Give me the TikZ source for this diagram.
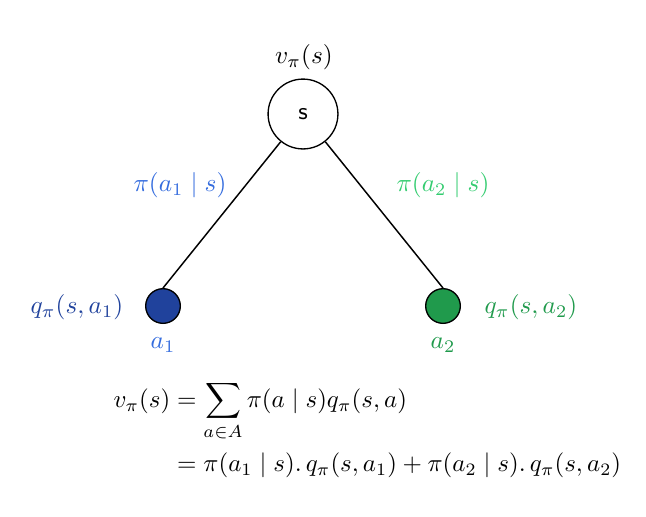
\documentclass[tikz,border=0pt]{standalone}
\usepackage{amsmath}
\definecolor{lblue}{RGB}{52,108,222}
\definecolor{dblue}{RGB}{32,66,156}
\definecolor{lgreen}{RGB}{52,204,112}
\definecolor{dgreen}{RGB}{32,154,76}
\begin{document}
\begin{tikzpicture}[x=0.375pt,y=-0.375pt,
  rootnode/.style={circle,draw,line width=0.5pt,minimum size=26.2pt,inner sep=0pt,font=\sffamily\small},
  leafnode/.style={circle,draw,line width=0.5pt,minimum size=13pt,inner sep=0pt},
  edge/.style={line width=0.55pt},
  lbl/.style={inner sep=0pt,scale=0.95}]
\path[use as bounding box] (0,0) rectangle (646,516);
\node[rootnode] (s) at (303,114) {s};
\node[lbl] (vs) at (304,57) {$v_\pi(s)$};
\node[leafnode,fill=dblue] (a1) at (163,306) {};
\node[leafnode,fill=dgreen] (a2) at (443,306) {};
\draw[edge] (s) -- (a1.north);
\draw[edge] (s) -- (a2.north);
\node[lbl,text=lblue] (p1) at (180,185) {$\pi(a_1\mid s)$};
\node[lbl,text=lgreen] (p2) at (443,185) {$\pi(a_2\mid s)$};
\node[lbl,text=dblue] (q1) at (77,307) {$q_\pi(s,a_1)$};
\node[lbl,text=dgreen] (q2) at (531,307) {$q_\pi(s,a_2)$};
\node[lbl,text=lblue] (l1) at (163,345) {$a_1$};
\node[lbl,text=dgreen] (l2) at (443,345) {$a_2$};
\node[inner sep=0pt,scale=0.935,anchor=west] (eq) at (113,431) {$\displaystyle\begin{aligned}
 v_\pi(s) &= \sum_{a\in A}\pi(a\mid s)q_\pi(s,a)\\
 &= \pi(a_1\mid s).\,q_\pi(s,a_1)+\pi(a_2\mid s).\,q_\pi(s,a_2)
\end{aligned}$};
\end{tikzpicture}
\end{document}
